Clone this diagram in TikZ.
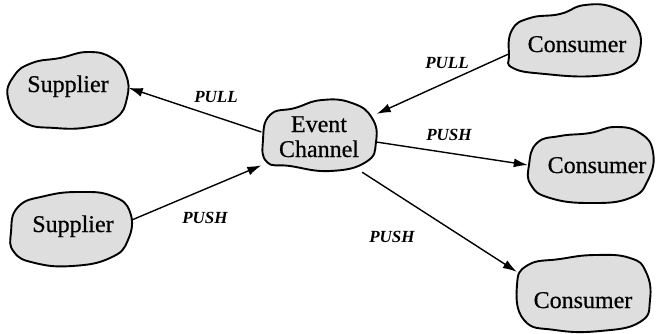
\documentclass[tikz,border=0pt]{standalone}
\usepackage{fontspec}
\setmainfont{Liberation Serif}
\newfontfamily\blobfont[FakeBold=0.5]{Liberation Serif}
\usetikzlibrary{arrows.meta}
\tikzset{
  blob/.style={draw=black, line width=1.9pt, fill=black!13, line join=round},
  hull/.style={rectangle, draw=none, inner sep=0pt, minimum width=#1},
  name text/.style={font=\blobfont\fontsize{24}{25}\selectfont, inner sep=0pt, anchor=base},
  flow label/.style={font=\fontsize{17}{18}\selectfont\bfseries\itshape, inner sep=0pt},
  flow/.style={line width=1.4pt, -{Latex[length=14pt,width=9pt]}}
}
\begin{document}
\begin{tikzpicture}[x=1pt,y=-1pt]
\useasboundingbox (0,0) rectangle (656,333);
% blobs
\draw[blob] plot[smooth cycle, tension=0.8] coordinates {(8,98) (14,76) (32,63) (60,58) (88,52) (112,58) (126,75) (127,98) (116,118) (90,127) (55,128) (24,122)};
\draw[blob] plot[smooth cycle, tension=0.8] coordinates {(11,232) (18,207) (45,196) (80,192) (112,196) (130,212) (128,240) (110,258) (72,266) (35,263) (14,252)};
\draw[blob] plot[smooth cycle, tension=0.8] coordinates {(263,140) (270,115) (295,108) (322,100) (352,103) (372,118) (376,142) (366,162) (330,171) (290,166) (267,162)};
\draw[blob] plot[smooth cycle, tension=0.8] coordinates {(509,55) (512,30) (530,18) (560,14) (585,5) (615,8) (636,25) (640,50) (628,68) (595,76) (545,74) (513,68)};
\draw[blob] plot[smooth cycle, tension=0.8] coordinates {(529,165) (537,143) (560,136) (590,133) (615,127) (640,133) (653,152) (648,180) (630,198) (590,203) (550,198) (531,185)};
\draw[blob] plot[smooth cycle, tension=0.8] coordinates {(517,285) (528,265) (560,259) (595,255) (630,258) (646,272) (650,300) (640,322) (600,331) (555,330) (524,320)};
% hulls for connectors
\node[hull=121pt, minimum height=76pt] (sup1) at (68,90) {};
\node[hull=122pt, minimum height=75pt] (sup2) at (71,229.5) {};
\node[hull=115pt, minimum height=72pt] (ec) at (319,136) {};
\node[hull=132pt, minimum height=73pt] (con1) at (574,41.5) {};
\node[hull=126pt, minimum height=76pt] (con2) at (591,165) {};
\node[hull=133pt, minimum height=77pt] (con3) at (583.5,293.5) {};
% texts
\node[name text] (sup1t) at (68,92) {Supplier};
\node[name text] (sup2t) at (73,232) {Supplier};
\node[name text] (ect1) at (319,132) {Event};
\node[name text] (ect2) at (319,157) {Channel};
\node[name text] (con1t) at (577,52) {Consumer};
\node[name text] (con2t) at (597,173) {Consumer};
\node[name text] (con3t) at (583,308) {Consumer};
% connectors
\draw[flow] (ec.176) -- (sup1.2);
\draw[flow] (sup2.9) -- (ec.207.4);
\draw[flow] (con1.191.5) -- (ec.21);
\draw[flow] (ec.-6.5) -- (con2.180);
\draw[flow] (ec.-40) -- (con3.162.6);
% labels
\node[flow label] (l1) at (216,97) {PULL};
\node[flow label] (l2) at (205,218) {PUSH};
\node[flow label] (l3) at (447,63) {PULL};
\node[flow label] (l4) at (449,135) {PUSH};
\node[flow label] (l5) at (392,237) {PUSH};
\end{tikzpicture}
\end{document}
